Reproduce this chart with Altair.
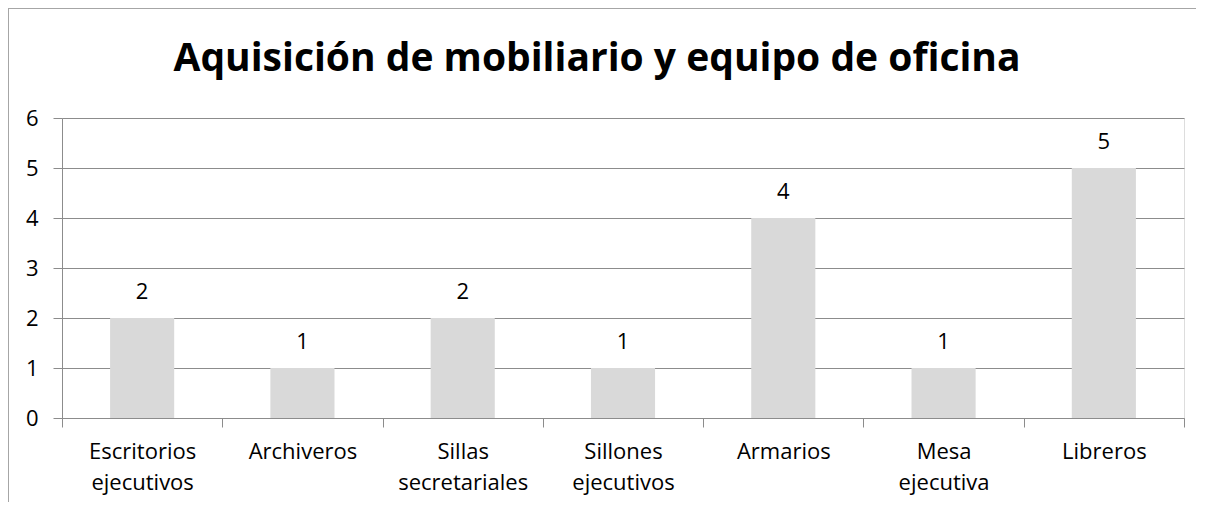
import altair as alt
import pandas as pd

categorias = ["Escritorios ejecutivos", "Archiveros", "Sillas secretariales",
              "Sillones ejecutivos", "Armarios", "Mesa ejecutiva", "Libreros"]
cantidades = [2, 1, 2, 1, 4, 1, 5]
titulo = "Aquisición de mobiliario y equipo de oficina"

df = pd.DataFrame({"categoria": categorias, "cantidad": cantidades})

FONT = "Open Sans"
GRID = "#8c8c8c"

x_enc = alt.X("categoria:N", sort=categorias, title=None,
              scale=alt.Scale(paddingInner=0, paddingOuter=0),
              axis=alt.Axis(labelAngle=0, labelExpr="split(datum.label, ' ')",
                            labelFontSize=22, labelFont=FONT, labelColor="black",
                            labelLineHeight=31, labelPadding=14,
                            tickBand="extent", tickSize=9, tickColor=GRID,
                            domainColor=GRID, grid=False))
y_enc = alt.Y("cantidad:Q", title=None,
              scale=alt.Scale(domain=[0, 6], nice=False),
              axis=alt.Axis(values=[0, 1, 2, 3, 4, 5, 6], labelFontSize=22,
                            labelFont=FONT, labelColor="black", labelPadding=15,
                            tickSize=9, tickColor=GRID, domainColor=GRID,
                            gridColor=GRID, grid=True))

base = alt.Chart(df)
bars = base.mark_bar(color="#d9d9d9", width=alt.RelativeBandSize(0.4)).encode(x=x_enc, y=y_enc)
labels = base.mark_text(font=FONT, fontSize=22, color="black", dy=-19,
                        baseline="alphabetic").encode(
    x=alt.X("categoria:N", sort=categorias), y="cantidad:Q", text="cantidad:Q")

border_left = base.mark_rule(color="#a6a6a6", strokeWidth=1).encode(
    x=alt.value(-53.5), y=alt.value(-110), y2=alt.value(400))
border_top = base.mark_rule(color="#a6a6a6", strokeWidth=1).encode(
    x=alt.value(-54), x2=alt.value(1140), y=alt.value(-109.5))

chart = alt.layer(bars, labels, border_left, border_top).properties(
    width=1122, height=300,
    title=alt.TitleParams(titulo, font=FONT, fontSize=39, fontWeight="bold",
                          color="black", anchor="middle", baseline="alphabetic",
                          offset=-102, dx=-26),
    autosize=alt.AutoSizeParams(type="none"),
    padding={"left": 54, "top": 110, "right": 12, "bottom": 84},
).configure_view(stroke=None).configure(background="white")

chart.save("out.html", embed_options={"renderer": "svg", "actions": False})
